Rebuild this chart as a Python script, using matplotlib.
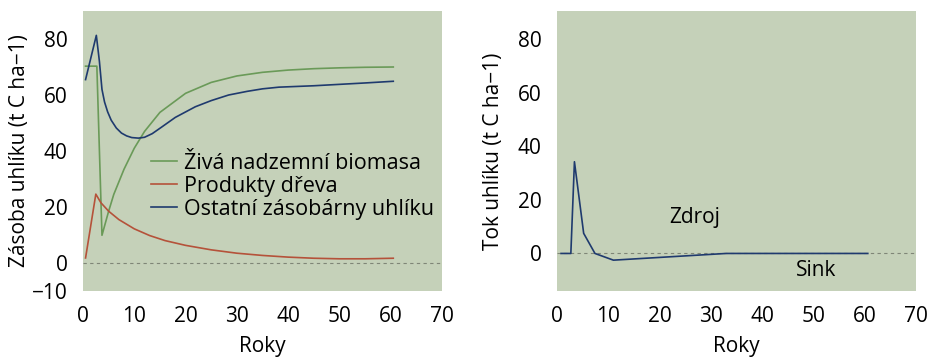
import matplotlib
matplotlib.use("Agg")
import matplotlib.pyplot as plt

plt.rcParams['font.family'] = ['Open Sans', 'DejaVu Sans']

# left panel: carbon stocks
years_bio = [0.5, 2.7, 3.7, 5, 6, 8, 10, 12, 15, 20, 25, 30, 35, 40, 45, 50, 55, 60.5]
living_biomass = [70.3, 70.3, 9.9, 18.5, 24.5, 33.5, 41.0, 47.0, 53.8, 60.6, 64.5, 66.8, 68.1, 68.9, 69.4, 69.7, 69.9, 70.0]

years_prod = [0.5, 2.5, 3.5, 5, 7, 10, 13, 16, 20, 25, 30, 35, 40, 45, 50, 55, 60.5]
wood_products = [1.8, 24.6, 21.5, 18.5, 15.5, 12.2, 9.8, 8.0, 6.3, 4.7, 3.5, 2.7, 2.1, 1.7, 1.5, 1.5, 1.7]

years_other = [0.5, 2.6, 3.2, 3.7, 4.2, 4.8, 5.5, 6.5, 7.5, 8.5, 9.5, 10.8, 12, 13.5, 15.3, 18, 21.9,
               25, 28.4, 32, 35, 38.2, 45, 50, 55, 60.5]
other_pools = [65.5, 81.3, 72.0, 62.0, 57.5, 54.0, 51.0, 48.2, 46.4, 45.4, 44.8, 44.6, 44.9, 46.2, 48.5, 52.0, 55.8,
               58.0, 60.0, 61.3, 62.2, 62.8, 63.3, 63.8, 64.3, 64.9]

# right panel: carbon flux
years_flux = [0.8, 2.7, 3.4, 5.2, 7.4, 11, 33, 60.6]
carbon_flux = [0.0, 0.0, 34.2, 7.5, 0.0, -2.5, 0.0, 0.0]

xticks = [0, 10, 20, 30, 40, 50, 60, 70]
bg = '#c5d1b9'
c_green = '#6a9a58'
c_red = '#b5523a'
c_blue = '#1f3a6e'
fs = 15

fig = plt.figure(figsize=(9.28, 3.57), dpi=100)
ax1 = fig.add_axes([83 / 928, 1 - 291 / 357, 359 / 928, 280 / 357])
ax2 = fig.add_axes([557 / 928, 1 - 291 / 357, 359 / 928, 280 / 357])

ax1.plot(years_bio, living_biomass, color=c_green, lw=1.2, label='Živá nadzemní biomasa')
ax1.plot(years_prod, wood_products, color=c_red, lw=1.2, label='Produkty dřeva')
ax1.plot(years_other, other_pools, color=c_blue, lw=1.2, label='Ostatní zásobárny uhlíku')
ax1.set_ylim(-8.8, 90)
ax1.set_yticks([-10, 0, 20, 40, 60, 80])
ax1.set_yticklabels(['−10', '0', '20', '40', '60', '80'])
ax1.set_ylabel('Zásoba uhlíku (t C ha−1)', fontsize=fs)
ax1.yaxis.set_label_coords(-0.148, 0.5)
ax1.legend(loc='upper left', bbox_to_anchor=(0.165, 0.525), frameon=False, fontsize=15.5,
           handlelength=1.2, handletextpad=0.35, labelspacing=0.1, borderaxespad=0)

ax2.plot(years_flux, carbon_flux, color=c_blue, lw=1.2)
ax2.set_ylim(-14, 90.4)
ax2.set_yticks([0, 20, 40, 60, 80])
ax2.set_ylabel('Tok uhlíku (t C ha−1)', fontsize=fs)
ax2.yaxis.set_label_coords(-0.148, 0.5)
ax2.text(26.8, 13.5, 'Zdroj', fontsize=fs, ha='center', va='center')
ax2.text(50.6, -6.3, 'Sink', fontsize=fs, ha='center', va='center')

for ax in (ax1, ax2):
    ax.set_facecolor(bg)
    ax.axhline(0, color='#7f8677', lw=0.8, ls=(0, (3, 3)), zorder=0.5)
    ax.set_xlim(0, 70)
    ax.set_xticks(xticks)
    ax.set_xlabel('Roky', fontsize=fs, labelpad=6)
    ax.tick_params(length=0, labelsize=fs, pad=11)
    for s in ax.spines.values():
        s.set_visible(False)

fig.savefig('out.png', dpi=100)
